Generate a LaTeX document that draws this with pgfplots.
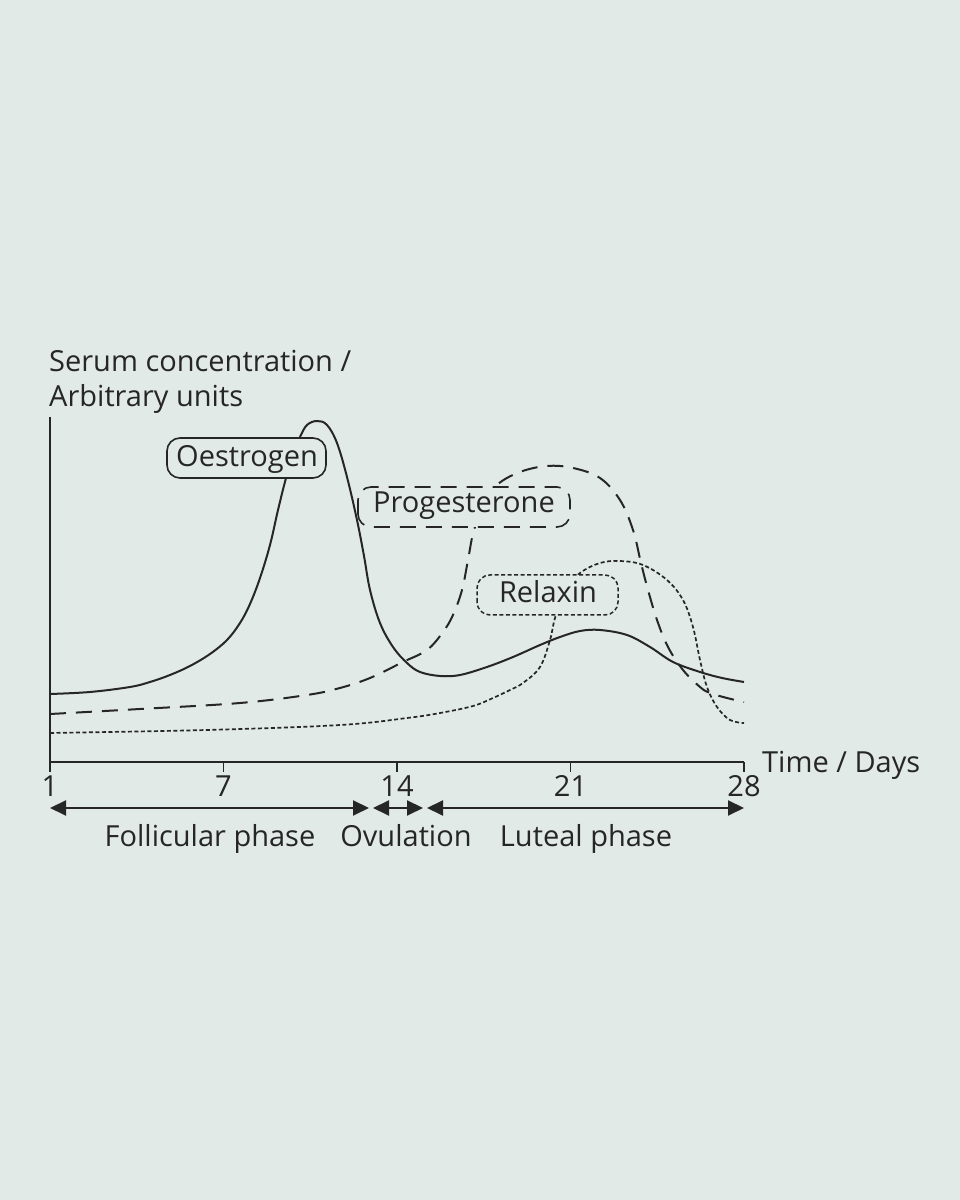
\documentclass[border=0pt]{standalone}
\usepackage{pgfplots}
\pgfplotsset{compat=1.18}
\usepackage{pgfplotstable}
\usepackage{fontspec}
\setmainfont{Open Sans}
\usetikzlibrary{arrows.meta}
\definecolor{bg}{HTML}{E1EAE7}
\definecolor{ink}{HTML}{262626}

\pgfplotstableread{
x y
0 19.71
1.614 20.29
3.228 21.74
4.035 23.19
4.842 25.22
5.648 27.83
6.455 31.30
7.141 35.36
7.666 40.29
8.069 45.80
8.473 53.33
8.876 62.90
9.199 73.04
9.522 82.32
9.804 88.99
10.087 94.20
10.369 97.68
10.773 98.84
11.176 97.68
11.579 92.46
11.983 82.61
12.386 70.14
12.669 59.71
12.911 49.86
13.314 40.29
13.839 33.33
14.404 28.70
14.928 26.09
15.735 24.93
16.542 25.22
17.631 27.54
18.680 30.43
19.770 33.91
20.577 36.23
21.384 37.97
22.191 38.26
23.280 36.81
24.208 33.33
25.136 28.99
26.225 26.09
27.113 24.35
28.000 23.19
}\oestrogen

\pgfplotstableread{
x y
0 13.91
3.631 15.36
7.666 17.10
10.369 19.42
11.700 21.45
12.911 24.35
14.242 28.99
15.210 32.46
15.856 37.68
16.259 42.61
16.623 49.86
16.865 58.55
17.107 67.25
17.551 74.49
18.035 80.29
18.963 84.06
20.052 85.80
21.101 85.22
22.190 82.32
22.997 75.94
23.522 67.25
23.844 57.68
24.127 49.86
24.490 41.16
24.934 33.33
25.539 26.67
26.225 21.74
26.628 20.00
27.314 18.55
28.000 17.39
}\progesterone

\pgfplotstableread{
x y
0 8.41
6.334 9.28
11.700 10.72
14.404 12.75
15.735 14.20
17.066 16.23
17.873 18.55
18.559 20.87
19.084 22.90
19.770 27.54
20.173 35.36
20.375 41.74
20.778 49.86
21.384 54.78
22.191 57.68
22.997 58.26
23.925 57.10
24.893 52.75
25.539 46.96
25.942 39.13
26.225 29.57
26.507 21.74
26.911 15.94
27.435 12.17
28.000 11.30
}\relaxin

\begin{document}
\begin{tikzpicture}
\fill[bg] (0pt,0pt) rectangle (960pt,1200pt);
\begin{axis}[
  at={(50pt,438pt)}, anchor=south west, scale only axis,
  width=694pt, height=345pt,
  xmin=0, xmax=28, ymin=0, ymax=100,
  axis lines=left,
  axis line style={-, line width=1.8pt, draw=ink},
  xtick={0,7,14,21,28}, xticklabels={1,7,14,21,28},
  ytick=\empty,
  tick align=outside, major tick length=10pt,
  tick style={line width=1.6pt, draw=ink},
  /pgf/number format/assume math mode=true,
  xticklabel style={font=\fontsize{29}{35}\selectfont, text=ink},
  clip=false,
]
\addplot[ink, line width=2pt, smooth, tension=0.6] table[x=x,y=y] {\oestrogen};
\addplot[ink, line width=2pt, smooth, tension=0.6, dash pattern=on 16pt off 10pt] table[x=x,y=y] {\progesterone};
\addplot[ink, line width=1.7pt, smooth, tension=0.6, dash pattern=on 4pt off 2.5pt] table[x=x,y=y] {\relaxin};
\end{axis}
\begin{scope}[font=\fontsize{29}{35}\selectfont, text=ink]
% boxes
\draw[ink, rounded corners=13pt, fill=bg, line width=1.6pt] (167pt,722pt) rectangle (326pt,762pt);
\node[anchor=base, inner sep=0pt] at (247pt,733pt) {Oestrogen};
\draw[ink, rounded corners=13pt, fill=bg, line width=1.6pt, dash pattern=on 16pt off 10pt] (358pt,673pt) rectangle (570pt,713pt);
\node[anchor=base, inner sep=0pt] at (464pt,687pt) {Progesterone};
\draw[ink, rounded corners=13pt, fill=bg, line width=1.5pt, dash pattern=on 4pt off 2.5pt] (477pt,585pt) rectangle (618pt,625pt);
\node[anchor=base, inner sep=0pt] at (548pt,597pt) {Relaxin};
% y label
\node[anchor=base west, inner sep=0pt] at (49pt,828pt) {Serum concentration /};
\node[anchor=base west, inner sep=0pt] at (49pt,793pt) {Arbitrary units};
% x label
\node[anchor=base west, inner sep=0pt] at (762pt,427pt) {Time / Days};
% phase arrows
\draw[ink, line width=2pt, {Triangle[length=16pt,width=15pt]}-{Triangle[length=16pt,width=15pt]}] (50pt,392pt) -- (369pt,392pt);
\draw[ink, line width=2pt, {Triangle[length=16pt,width=15pt]}-{Triangle[length=16pt,width=15pt]}] (373pt,392pt) -- (423pt,392pt);
\draw[ink, line width=2pt, {Triangle[length=16pt,width=15pt]}-{Triangle[length=16pt,width=15pt]}] (427pt,392pt) -- (744pt,392pt);
\node[anchor=base, inner sep=0pt] at (210pt,353pt) {Follicular phase};
\node[anchor=base, inner sep=0pt] at (406pt,353pt) {Ovulation};
\node[anchor=base, inner sep=0pt] at (586pt,353pt) {Luteal phase};
\end{scope}
\end{tikzpicture}
\end{document}
